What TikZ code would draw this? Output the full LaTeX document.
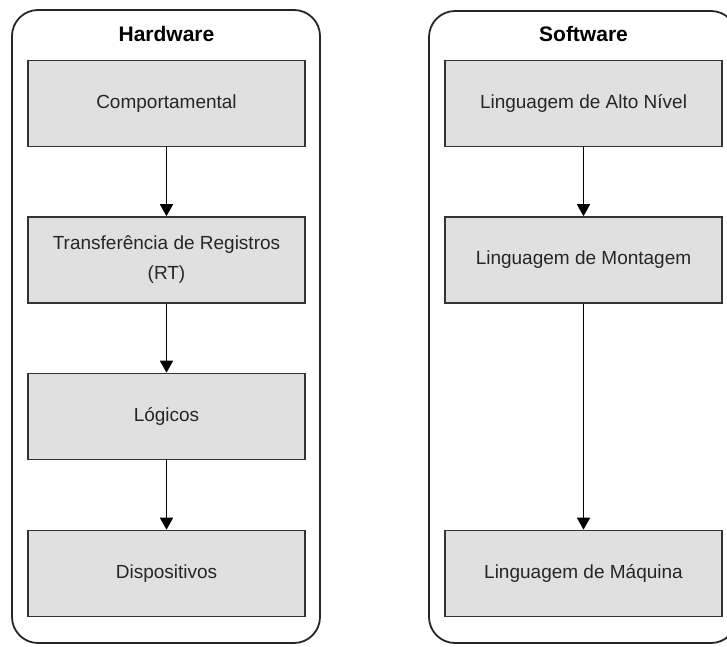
\documentclass[tikz,border=0pt]{standalone}
\usepackage{fontspec}
\setmainfont{Liberation Sans}
\usepackage{tikz}
\usetikzlibrary{arrows.meta}
\def\bw{277}
\def\bh{86}
\tikzset{panel/.style={line width=1.8pt, draw=black!85, rounded corners=26pt}}
\tikzset{level/.style={draw=black!80, line width=1.6pt, fill=black!12, minimum width=\bw pt, minimum height=\bh pt, align=center, inner sep=0pt, font=\fontsize{19}{30}\selectfont, text=black!85}}
\tikzset{head/.style={font=\fontsize{21}{24}\selectfont\bfseries}}
\tikzset{flow/.style={line width=1.6pt, -{Triangle[width=13pt,length=12pt]}}}

\begin{document}
\begin{tikzpicture}[x=1pt,y=-1pt]
        \useasboundingbox (0,0) rectangle (727,646);
        % Panels
        \draw[panel] (12,10) rectangle (320,643);
        \draw[panel] (429,11) rectangle (737,643);
        % Hardware
        \node[head] (hw) at (166.5,34) {Hardware};
        \node[level] (comp) at (166.5,103.5) {Comportamental};
        \node[level] (rt) at (166.5,260) {Transferência de Registros\\(RT)};
        \node[level] (logic) at (166.5,416.5) {Lógicos};
        \node[level] (disp) at (166.5,573.5) {Dispositivos};
        % Software
        \node[head] (sw) at (583.5,34) {Software};
        \node[level] (high) at (583.5,103.5) {Linguagem de Alto Nível};
        \node[level] (asm) at (583.5,260) {Linguagem de Montagem};
        \node[level] (mach) at (583.5,573.5) {Linguagem de Máquina};
        \foreach \a/\b in {comp/rt, rt/logic, logic/disp, high/asm, asm/mach} {
          \draw[flow] (\a) -- (\b);
        }
        \end{tikzpicture}
\end{document}
